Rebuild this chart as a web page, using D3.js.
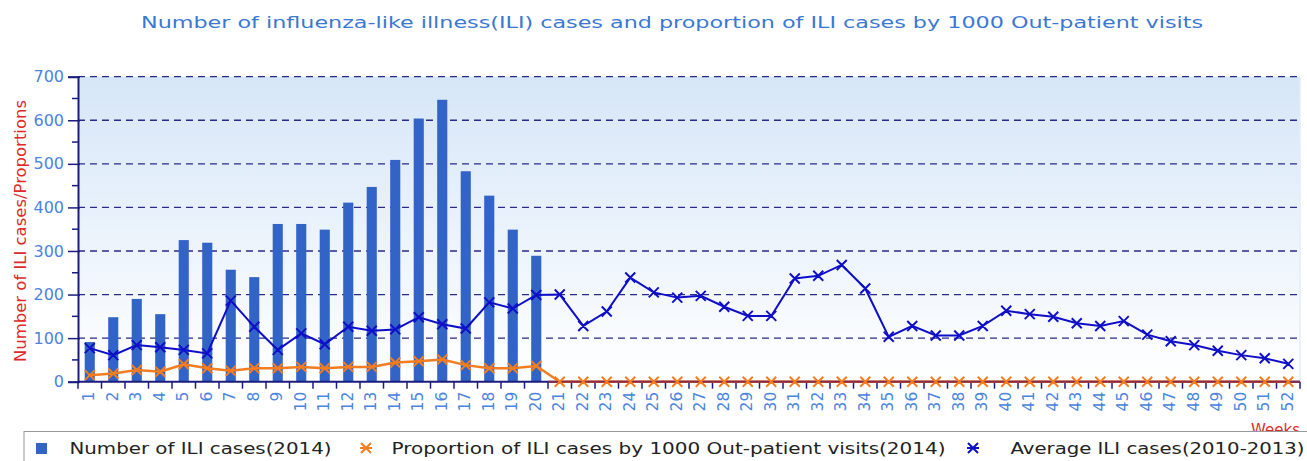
<!DOCTYPE html>
<html><head><meta charset="utf-8">
<script src="https://cdn.jsdelivr.net/npm/d3@7"></script>
<style>body{margin:0;background:#fff}svg{display:block}text{font-family:"DejaVu Sans",sans-serif}</style>
</head><body><svg id="c" width="1307" height="461"></svg>
<script>
const titleText = "Number of influenza-like illness(ILI) cases and proportion of ILI cases by 1000 Out-patient visits";
const yTitle = "Number of ILI cases/Proportions";
const xTitle = "Weeks";
const weeks = d3.range(1, 53).map(String);
const yTicks = [0,100,200,300,400,500,600,700];
const cases2014 = [91,148,190,155,325,319,257,240,362,362,349,411,447,509,604,647,483,427,349,289];
const proportion2014 = [15,19,27,23,40,31,25,31,31,34,31,34,34,44,47,51,38,31,31,36,
  0,0,0,0,0,0,0,0,0,0,0,0,0,0,0,0,0,0,0,0,0,0,0,0,0,0,0,0,0,0,0,0];
const avg20102013 = [77,61,84,79,73,65,186,126,73,111,86,126,117,120,148,132,122,182,168,199,
  200,128,161,239,205,193,197,172,151,151,237,243,268,214,103,128,106,106,128,163,155,149,134,128,139,108,93,84,71,61,54,41];
const legendLabels = ["Number of ILI cases(2014)","Proportion of ILI cases by 1000 Out-patient visits(2014)","Average ILI cases(2010-2013)"];

const svg = d3.select("#c");
const L = 78, R = 1300, T = 76.7, B = 381.7;
const x = d3.scaleBand().domain(weeks).range([L, R]);
const y = d3.scaleLinear().domain([0, 700]).range([B, T]);
const navy = "#1c1c7e", barC = "#3263c6", blueC = "#0f0fc8", orC = "#f57d1f", tickC = "#4a84dc";

// background gradient
const defs = svg.append("defs");
const g = defs.append("linearGradient").attr("id","bg").attr("x1",0).attr("y1",0).attr("x2",0).attr("y2",1);
g.append("stop").attr("offset","0%").attr("stop-color","#d6e6f8");
g.append("stop").attr("offset","100%").attr("stop-color","#ffffff");
svg.append("rect").attr("x",L).attr("y",y(700)).attr("width",R-L).attr("height",y(0)-y(700)).attr("fill","url(#bg)");
svg.append("line").attr("x1",R).attr("x2",R).attr("y1",y(700)).attr("y2",y(0)).attr("stroke","#e4ecf6").attr("stroke-width",1.5);

// title
svg.append("text").attr("x",672).attr("y",28).attr("text-anchor","middle")
  .attr("font-size",16).attr("fill","#3a78d2").attr("textLength",1062).attr("lengthAdjust","spacingAndGlyphs").text(titleText);

// grid
svg.append("g").selectAll("line").data(yTicks.filter(d=>d>0)).join("line")
  .attr("x1",L).attr("x2",R).attr("y1",d=>y(d)).attr("y2",d=>y(d))
  .attr("stroke","#2a2a88").attr("stroke-width",1.3).attr("stroke-dasharray","7,5");

// bars
const bw = x.bandwidth()*0.43;
svg.append("g").selectAll("rect").data(cases2014).join("rect")
  .attr("x",(d,i)=>x(weeks[i])+x.bandwidth()/2-bw/2).attr("width",bw)
  .attr("y",d=>y(d)).attr("height",d=>y(0)-y(d)).attr("fill",barC);

// y axis
const yAxis = d3.axisLeft(y).tickValues(yTicks).tickSize(10).tickPadding(4);
const ya = svg.append("g").attr("transform",`translate(${L},0)`).call(yAxis);
ya.select(".domain").attr("stroke",navy).attr("stroke-width",2);
ya.selectAll(".tick line").attr("stroke",navy).attr("stroke-width",1.5).attr("x2",-10).attr("x1",2);
ya.selectAll(".tick text").attr("font-size",16).attr("fill",tickC).attr("font-family","DejaVu Sans").attr("x",-14);
svg.append("g").selectAll("line").data(d3.range(50,700,100)).join("line")
  .attr("x1",L-6).attr("x2",L).attr("y1",d=>y(d)).attr("y2",d=>y(d)).attr("stroke",navy).attr("stroke-width",1.5);

// x axis
svg.append("line").attr("x1",L).attr("x2",R).attr("y1",y(0)).attr("y2",y(0)).attr("stroke",navy).attr("stroke-width",2);
svg.append("g").selectAll("line").data(weeks.concat(["end"])).join("line")
  .attr("x1",d=>d==="end"?R:x(d)).attr("x2",d=>d==="end"?R:x(d))
  .attr("y1",y(0)).attr("y2",y(0)+7).attr("stroke",navy).attr("stroke-width",1.5);
svg.append("g").selectAll("text").data(weeks).join("text")
  .attr("transform",d=>`translate(${x(d)+x.bandwidth()/2-1},${y(0)+10}) rotate(-90)`)
  .attr("text-anchor","end").attr("dy","0.36em").attr("font-size",15.5).attr("fill",tickC).text(d=>d);

// lines
function cross(sel, data, color, sw){
  const s = 5;
  const p = d3.path();
  data.forEach((d,i)=>{
    const cx = x(weeks[i])+x.bandwidth()/2, cy = y(d);
    p.moveTo(cx-s,cy-s); p.lineTo(cx+s,cy+s); p.moveTo(cx-s,cy+s); p.lineTo(cx+s,cy-s);
  });
  sel.append("path").attr("d",p.toString()).attr("stroke",color).attr("stroke-width",sw).attr("fill","none");
}
const line = d3.line().x((d,i)=>x(weeks[i])+x.bandwidth()/2).y(d=>y(d));
svg.append("path").datum(proportion2014).attr("d",line).attr("fill","none").attr("stroke",orC).attr("stroke-width",2.5);
svg.append("line").attr("x1",x("21")).attr("x2",R).attr("y1",y(0)).attr("y2",y(0)).attr("stroke","#8a2a4a").attr("stroke-width",2);
cross(svg, proportion2014, orC, 2);
svg.append("path").datum(avg20102013).attr("d",line).attr("fill","none").attr("stroke",blueC).attr("stroke-width",2);
cross(svg, avg20102013, blueC, 2);

// axis titles
svg.append("text").attr("transform",`translate(26,231) rotate(-90)`).attr("text-anchor","middle")
  .attr("font-size",15).attr("fill","#e02a2a").attr("textLength",262).attr("lengthAdjust","spacingAndGlyphs").text(yTitle);
svg.append("text").attr("x",R).attr("y",435).attr("text-anchor","end").attr("font-size",15).attr("fill","#e02a2a").text(xTitle);

// legend
svg.append("rect").attr("x",24).attr("y",431.5).attr("width",1300).attr("height",40).attr("fill","#fff").attr("stroke","#999").attr("stroke-width",1);
const lg = svg.append("g");
lg.append("rect").attr("x",36).attr("y",443).attr("width",11).attr("height",11).attr("fill",barC);
function star(cx, cy, color){
  const s=5, p=d3.path();
  p.moveTo(cx-s,cy-s); p.lineTo(cx+s,cy+s); p.moveTo(cx-s,cy+s); p.lineTo(cx+s,cy-s); p.moveTo(cx-s-1,cy); p.lineTo(cx+s+1,cy);
  lg.append("path").attr("d",p.toString()).attr("stroke",color).attr("stroke-width",2).attr("fill","none");
}
star(366,448,orC); star(973,448,blueC);
const lx = [69.5,391.5,1010.5], lw = [262,554,294];
lg.selectAll("text").data(legendLabels).join("text").attr("x",(d,i)=>lx[i]).attr("y",454)
  .attr("font-size",16).attr("fill","#222").attr("textLength",(d,i)=>lw[i]).attr("lengthAdjust","spacingAndGlyphs").text(d=>d);
</script></body></html>
